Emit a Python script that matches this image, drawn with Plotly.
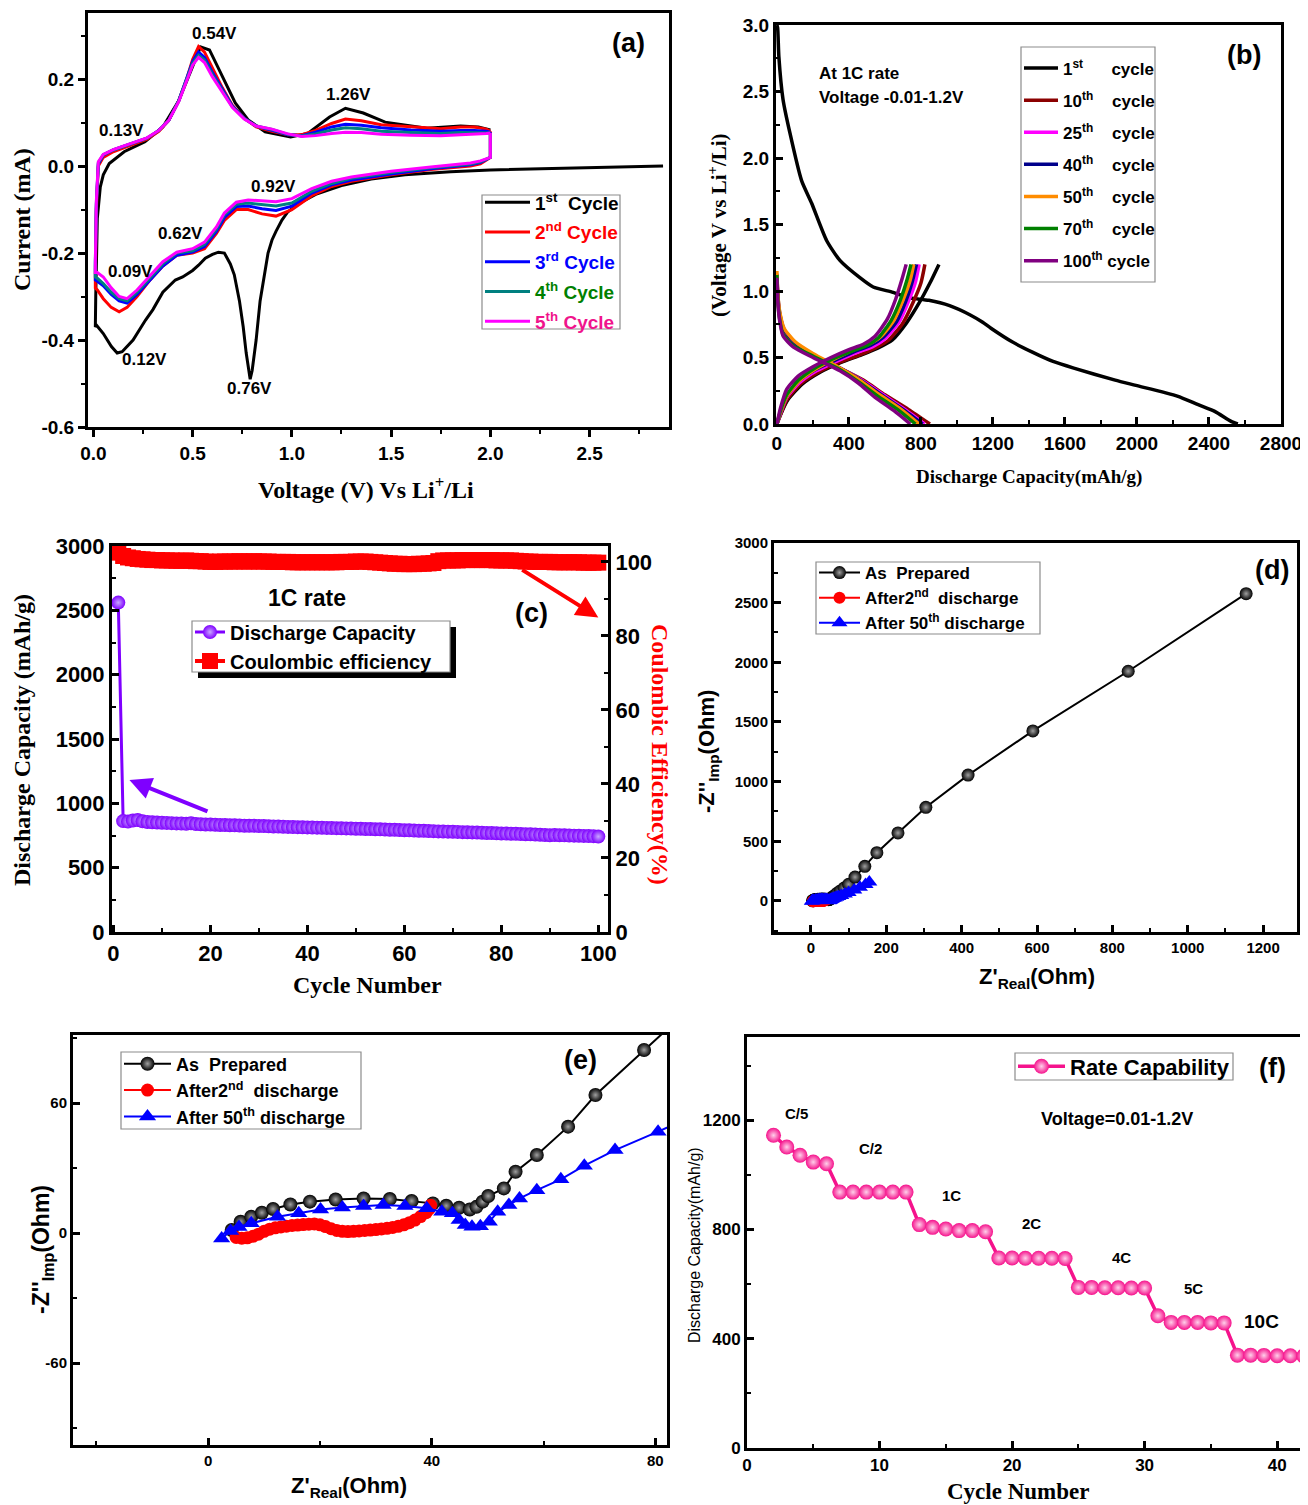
import plotly.graph_objects as go

# the page body adds an 8 px margin, so the figure is drawn 8 px smaller and all
# reference-pixel positions are shifted by that offset
OFF = 8
FW, FH = 1308 - OFF, 1505 - OFF
SANS = "Liberation Sans, Arial, sans-serif"
SERIF = "Liberation Serif, Times New Roman, serif"

# ---------------- (a) cyclic voltammetry ----------------
cv1_v = [2.87, 2.6, 2.3, 2.0, 1.8, 1.57, 1.4, 1.25, 1.12, 1.04, 0.98, 0.95, 0.92, 0.9, 0.88, 0.865,
         0.84, 0.82, 0.80, 0.79, 0.77, 0.755, 0.736, 0.71, 0.69, 0.66, 0.63, 0.6, 0.564, 0.53, 0.5,
         0.45, 0.413, 0.35, 0.3, 0.263, 0.2, 0.145, 0.12, 0.091, 0.05, 0.016, 0.01,
         0.01, 0.012, 0.02, 0.035, 0.05, 0.08, 0.155, 0.26, 0.35, 0.43, 0.5, 0.54, 0.585, 0.65,
         0.715, 0.78, 0.865, 0.994, 1.08, 1.19, 1.27, 1.36, 1.47, 1.68, 1.85, 1.94, 2.0]
cv1_i = [0.0, -0.003, -0.006, -0.009, -0.013, -0.02, -0.03, -0.045, -0.065, -0.085, -0.105, -0.124,
         -0.15, -0.17, -0.2, -0.24, -0.31, -0.40, -0.47, -0.49, -0.43, -0.37, -0.31, -0.25, -0.225,
         -0.2, -0.198, -0.203, -0.212, -0.228, -0.24, -0.255, -0.262, -0.29, -0.33, -0.354, -0.40,
         -0.427, -0.43, -0.415, -0.385, -0.366, -0.37,
         -0.37, -0.3, -0.12, -0.048, -0.02, 0.006, 0.033, 0.056, 0.09, 0.15, 0.228, 0.274, 0.267,
         0.205, 0.145, 0.106, 0.079, 0.067, 0.075, 0.113, 0.133, 0.122, 0.101, 0.087, 0.092, 0.09, 0.083]

cv_v_cath = [2.0, 2.0, 1.95, 1.9, 1.7, 1.5, 1.3, 1.2, 1.1, 1.0, 0.92, 0.85, 0.78, 0.72, 0.66, 0.62,
             0.56, 0.5, 0.42, 0.35, 0.28, 0.22, 0.17, 0.13, 0.09, 0.05, 0.02, 0.01]
cv_v_anod = [0.01, 0.015, 0.025, 0.05, 0.1, 0.15, 0.2, 0.27, 0.33, 0.38, 0.43, 0.47, 0.5, 0.53, 0.56,
             0.6, 0.65, 0.7, 0.76, 0.82, 0.9, 0.98, 1.05, 1.12, 1.2, 1.27, 1.35, 1.45, 1.6, 1.75,
             1.85, 1.92, 1.98, 2.0]

cv2_cath = [0.08, 0.02, 0.005, 0.0, -0.008, -0.02, -0.035, -0.047, -0.068, -0.1, -0.115, -0.11, -0.1,
            -0.1, -0.125, -0.155, -0.19, -0.2, -0.205, -0.23, -0.265, -0.3, -0.325, -0.335, -0.325,
            -0.305, -0.285, -0.28]
cv2_anod = [-0.25, -0.1, 0.0, 0.02, 0.033, 0.042, 0.05, 0.062, 0.08, 0.105, 0.15, 0.2, 0.245, 0.275,
            0.262, 0.225, 0.18, 0.14, 0.11, 0.09, 0.08, 0.072, 0.072, 0.082, 0.098, 0.108, 0.104,
            0.095, 0.09, 0.086, 0.09, 0.09, 0.085, 0.08]
cv3_cath = [0.078, 0.02, 0.008, 0.003, -0.006, -0.018, -0.032, -0.043, -0.062, -0.092, -0.102, -0.098,
            -0.092, -0.093, -0.118, -0.15, -0.185, -0.198, -0.205, -0.23, -0.265, -0.295, -0.315,
            -0.31, -0.295, -0.275, -0.265, -0.262]
cv3_anod = [-0.23, -0.09, 0.005, 0.025, 0.037, 0.045, 0.052, 0.064, 0.082, 0.105, 0.15, 0.2, 0.24,
            0.262, 0.25, 0.215, 0.175, 0.138, 0.11, 0.092, 0.082, 0.072, 0.07, 0.078, 0.09, 0.096,
            0.094, 0.088, 0.083, 0.08, 0.082, 0.082, 0.08, 0.078]
cv4_cath = [0.076, 0.02, 0.01, 0.005, -0.004, -0.015, -0.028, -0.04, -0.058, -0.085, -0.092, -0.088,
            -0.085, -0.088, -0.112, -0.145, -0.18, -0.195, -0.2, -0.225, -0.26, -0.29, -0.31, -0.305,
            -0.29, -0.27, -0.258, -0.255]
cv4_anod = [-0.22, -0.085, 0.008, 0.026, 0.037, 0.045, 0.052, 0.064, 0.082, 0.105, 0.15, 0.198, 0.236,
            0.255, 0.244, 0.21, 0.172, 0.136, 0.109, 0.092, 0.084, 0.073, 0.069, 0.074, 0.083, 0.088,
            0.086, 0.08, 0.077, 0.075, 0.077, 0.077, 0.077, 0.076]
cv5_cath = [0.076, 0.02, 0.012, 0.007, -0.002, -0.012, -0.025, -0.035, -0.052, -0.075, -0.082, -0.08,
            -0.078, -0.083, -0.108, -0.14, -0.175, -0.19, -0.198, -0.22, -0.255, -0.285, -0.305, -0.3,
            -0.28, -0.255, -0.245, -0.245]
cv5_anod = [-0.22, -0.08, 0.01, 0.027, 0.038, 0.046, 0.053, 0.065, 0.082, 0.105, 0.148, 0.195, 0.232,
            0.25, 0.238, 0.205, 0.17, 0.135, 0.108, 0.092, 0.085, 0.074, 0.068, 0.07, 0.075, 0.078,
            0.077, 0.073, 0.071, 0.07, 0.072, 0.073, 0.075, 0.076]
cv_ytick_vals = [-0.6, -0.4, -0.2, 0.0, 0.2]
cv_ytick_text = ["-0.6", "-0.4", "-0.2", "0.0", "0.2"]

# ---------------- (b) charge / discharge ----------------
c1_dis_cap = [0, 4, 11, 34, 72, 137, 193, 276, 350, 461, 535, 645, 729, 844, 959, 1074, 1143, 1189,
              1304, 1419, 1534, 1649, 1879, 1994, 2224, 2340, 2432, 2523, 2560]
c1_dis_v = [3.0, 2.98, 2.76, 2.44, 2.19, 1.83, 1.66, 1.38, 1.23, 1.1, 1.03, 0.99, 0.95, 0.93, 0.89,
            0.82, 0.765, 0.72, 0.62, 0.54, 0.47, 0.42, 0.33, 0.29, 0.21, 0.145, 0.095, 0.02, 0.0]
c1_chg_cap = [0, 20, 60, 140, 240, 350, 470, 560, 640, 720, 790, 850, 900]
c1_chg_v = [0, 0.07, 0.18, 0.3, 0.39, 0.46, 0.52, 0.57, 0.63, 0.76, 0.91, 1.06, 1.2]

c10_dis_cap = [0, 5, 15, 40, 100, 200, 350, 480, 600, 730, 850]
c10_dis_v = [1.1, 0.95, 0.82, 0.7, 0.6, 0.52, 0.42, 0.33, 0.22, 0.11, 0.0]
c10_chg_cap = [0, 20, 55, 130, 230, 340, 460, 545, 620, 700, 755, 800, 822]
c10_chg_v = [0, 0.07, 0.18, 0.3, 0.39, 0.46, 0.52, 0.57, 0.63, 0.76, 0.91, 1.06, 1.2]

c25_dis_cap = [0, 5, 15, 40, 100, 200, 350, 470, 590, 710, 820]
c25_dis_v = [1.12, 0.96, 0.83, 0.71, 0.61, 0.52, 0.42, 0.33, 0.22, 0.11, 0.0]
c25_chg_cap = [0, 20, 55, 125, 220, 330, 450, 530, 600, 680, 730, 770, 790]
c25_chg_v = [0, 0.08, 0.2, 0.31, 0.4, 0.47, 0.54, 0.58, 0.64, 0.77, 0.92, 1.07, 1.2]

c40_dis_cap = [0, 5, 15, 40, 100, 200, 350, 465, 580, 700, 810]
c40_dis_v = [1.13, 0.97, 0.84, 0.71, 0.61, 0.52, 0.42, 0.33, 0.22, 0.11, 0.0]
c40_chg_cap = [0, 20, 55, 120, 215, 325, 440, 520, 590, 665, 715, 752, 775]
c40_chg_v = [0, 0.09, 0.21, 0.32, 0.41, 0.48, 0.55, 0.59, 0.65, 0.77, 0.92, 1.07, 1.2]

c50_dis_cap = [0, 5, 15, 40, 100, 200, 350, 460, 570, 690, 790]
c50_dis_v = [1.15, 0.98, 0.85, 0.72, 0.62, 0.53, 0.42, 0.33, 0.22, 0.11, 0.0]
c50_chg_cap = [0, 20, 55, 120, 210, 320, 430, 510, 580, 650, 700, 740, 760]
c50_chg_v = [0, 0.09, 0.21, 0.32, 0.41, 0.49, 0.56, 0.6, 0.66, 0.78, 0.93, 1.08, 1.2]

c70_dis_cap = [0, 5, 15, 35, 90, 200, 350, 450, 560, 670, 770]
c70_dis_v = [1.12, 0.93, 0.79, 0.67, 0.59, 0.51, 0.41, 0.32, 0.21, 0.11, 0.0]
c70_chg_cap = [0, 20, 55, 120, 210, 310, 420, 500, 565, 635, 685, 722, 745]
c70_chg_v = [0, 0.1, 0.22, 0.33, 0.42, 0.49, 0.55, 0.59, 0.65, 0.78, 0.93, 1.08, 1.2]

c100_dis_cap = [0, 5, 15, 35, 90, 200, 350, 450, 545, 650, 741]
c100_dis_v = [1.1, 0.92, 0.78, 0.66, 0.58, 0.5, 0.4, 0.31, 0.2, 0.1, 0.0]
c100_chg_cap = [0, 20, 54, 118, 200, 300, 400, 480, 545, 614, 660, 695, 718]
c100_chg_v = [0, 0.12, 0.26, 0.36, 0.43, 0.5, 0.56, 0.6, 0.66, 0.79, 0.94, 1.09, 1.2]

# ---------------- (c) cycling at 1C ----------------
cyc_num = list(range(1, 101))
dis_capacity = [2560,
                862, 858, 866, 870, 860, 855, 853, 851, 849,
                848, 846, 844, 843, 841, 845, 839, 838, 836, 835,
                834, 832, 831, 830, 829, 828, 826, 825, 826, 824,
                823, 822, 820, 819, 818, 817, 816, 815, 814, 813,
                812, 811, 810, 809, 808, 807, 806, 805, 804, 803,
                802, 801, 800, 799, 798, 796, 795, 794, 792, 791,
                790, 788, 787, 786, 785, 784, 782, 781, 780, 779,
                778, 776, 775, 774, 773, 771, 770, 769, 768, 766,
                765, 764, 763, 761, 760, 759, 757, 755, 753, 752,
                753, 752, 751, 750, 749, 748, 747, 746, 745, 742]
coul_eff = [102.5, 101.6, 101.2, 101.0, 100.8, 100.7, 100.6, 100.5, 100.5, 100.4,
            100.4, 100.4, 100.3, 100.3, 100.4, 100.3, 100.2, 100.2, 100.1, 100.0,
            100.0, 100.1, 100.1, 100.1, 100.1, 100.2, 100.1, 100.1, 100.2, 100.1,
            100.1, 100.1, 100.0, 100.0, 100.0, 100.0, 99.9, 99.9, 99.9, 99.9,
            99.9, 99.9, 99.9, 99.9, 99.9, 99.9, 100.0, 100.0, 100.0, 100.1,
            100.1, 100.1, 100.0, 99.9, 99.8, 99.7, 99.6, 99.5, 99.5, 99.4,
            99.4, 99.4, 99.5, 99.5, 99.6, 99.7, 100.2, 100.4, 100.4, 100.4,
            100.4, 100.5, 100.5, 100.5, 100.5, 100.5, 100.5, 100.5, 100.4, 100.4,
            100.4, 100.4, 100.3, 100.2, 100.1, 100.1, 100.0, 100.0, 100.0, 100.0,
            99.9, 99.9, 99.9, 99.9, 99.9, 99.9, 99.8, 99.8, 99.8, 99.8]

# ---------------- (d)/(e) impedance ----------------
ap_re = [4.2, 5.8, 7.7, 9.6, 11.6, 14.7, 18.2, 22.8, 27.8, 32.5, 36.4, 40.2, 42.6, 44.9, 46.8, 48.0,
         49.1, 50.1, 52.9, 55.0, 58.8, 64.4, 69.3, 78.0, 88, 100, 117, 143, 175, 231, 305, 417, 589,
         842, 1155]
ap_im = [1.4, 5.2, 7.5, 9.4, 11.1, 13.2, 14.5, 15.5, 16.0, 15.7, 14.8, 13.7, 12.6, 11.7, 10.9, 12.1,
         14.5, 17.1, 20.6, 28.3, 36.0, 49.1, 63.7, 84.5, 108, 140, 200, 290, 405, 570, 785, 1055,
         1425, 1925, 2575]
d2_re = [5.0, 6.0, 7.0, 8.0, 9.0, 10.0, 11.0, 12.0, 13.0, 14.0, 15.0, 16.0, 17.0, 18.0, 19.0, 20.0,
         21.0, 22.0, 23.0, 24.0, 25.0, 26.0, 27.0, 28.0, 29.0, 30.0, 31.0, 32.0, 33.0, 34.0, 35.0,
         36.0, 37.0, 38.0, 39.0, 39.5, 39.8]
d2_im = [-2.0, -2.4, -2.2, -1.5, -0.5, 0.8, 1.8, 2.4, 2.8, 3.2, 3.5, 3.7, 3.9, 4.1, 4.2, 3.8, 3.0, 2.0,
         1.2, 0.8, 0.7, 0.8, 1.0, 1.2, 1.4, 1.6, 1.9, 2.2, 2.6, 3.1, 3.8, 4.8, 6.0, 7.6, 9.4, 11.0, 12.8]
d50_re = [2.4, 4.0, 5.5, 7.7, 12.4, 16.2, 20.1, 24.0, 27.8, 31.3, 35.2, 39.1, 41.8, 43.7, 44.9, 46.0,
          47.2, 48.7, 50.3, 51.8, 53.8, 55.7, 58.8, 63.1, 67.3, 72.8, 80.5, 90, 100, 115, 130, 145, 155]
d50_im = [-2.5, 1.0, 2.8, 4.5, 7.5, 9.1, 10.9, 11.8, 12.5, 12.9, 12.5, 11.4, 9.8, 9.1, 6.0, 3.7, 2.9,
          3.2, 5.2, 9.8, 12.9, 16.0, 19.8, 24.8, 31.1, 38.3, 46.8, 58, 72, 92, 115, 138, 160]
e_ytick_vals = [-60, 0, 60]
e_ytick_text = ["-60", "0", "60"]

# ---------------- (f) rate capability ----------------
rate_cycle = [2, 3, 4, 5, 6, 7, 8, 9, 10, 11, 12, 13, 14, 15, 16, 17, 18, 19, 20, 21, 22, 23, 24,
              25, 26, 27, 28, 29, 30, 31, 32, 33, 34, 35, 36, 37, 38, 39, 40, 41, 42]
rate_cap = [1145, 1102, 1072, 1047, 1041, 937, 937, 937, 937, 937, 937, 818, 808, 802, 796, 796, 792,
            696, 696, 695, 695, 695, 694, 588, 588, 587, 587, 586, 586, 484, 460, 460, 460, 458, 458,
            340, 340, 339, 338, 338, 337]
rate_labels = ["C/5", "C/2", "1C", "2C", "4C", "5C", "10C"]


def fx(x):
    return (x - OFF) / FW


def fy(y):
    return 1 - (y - OFF) / FH


def dx(a, b):
    return [fx(a), fx(b)]


def dy(top, bottom):
    return [fy(bottom), fy(top)]


def P(x, y):
    return dict(x=fx(x), y=fy(y), xref="paper", yref="paper")


def axis(domain, rng, dtick, minor_dtick, anchor, size, ticks="inside", fmt=None, tick0=None, **kw):
    d = dict(domain=domain, range=rng, dtick=dtick, anchor=anchor, showline=True, linewidth=3,
             linecolor="black", mirror=True, ticks=ticks, ticklen=7, tickwidth=2.5, tickcolor="black",
             showgrid=False, zeroline=False, automargin=False,
             tickfont=dict(family=SANS, size=size, color="black", weight="bold"),
             minor=dict(dtick=minor_dtick, ticks=ticks, ticklen=4, tickwidth=2, tickcolor="black",
                        showgrid=False))
    if fmt:
        d["tickformat"] = fmt
    if tick0 is not None:
        d["tick0"] = tick0
        d["minor"]["tick0"] = tick0
    d.update(kw)
    return d


fig = go.Figure()

# ---- (a) traces
fig.add_trace(go.Scatter(x=cv1_v, y=cv1_i, mode="lines", line=dict(color="black", width=3),
                         name="1<sup>st</sup>\u00a0 Cycle", legendgroup="a1",
                         xaxis="x", yaxis="y", legend="legend"))
cv_specs = [(cv2_cath, cv2_anod, "#FF0000", "#FF0000", "2<sup>nd</sup> Cycle"),
            (cv3_cath, cv3_anod, "#0000FF", "#0000FF", "3<sup>rd</sup> Cycle"),
            (cv4_cath, cv4_anod, "#008080", "#008000", "4<sup>th</sup> Cycle"),
            (cv5_cath, cv5_anod, "#FF00FF", "#F0148C", "5<sup>th</sup> Cycle")]
for k, (cath, anod, col, tcol, nm) in enumerate(cv_specs):
    fig.add_trace(go.Scatter(x=cv_v_cath + cv_v_anod, y=cath + anod, mode="lines",
                             line=dict(color=col, width=3),
                             name="<span style='color:%s'>%s</span>" % (tcol, nm), legendgroup="a%d" % (k + 2),
                             xaxis="x", yaxis="y", legend="legend"))

# ---- (b) traces
b_specs = [("1<sup>st</sup>\u00a0\u00a0\u00a0\u00a0\u00a0\u00a0cycle", "black", c1_dis_cap, c1_dis_v, c1_chg_cap, c1_chg_v),
           ("10<sup>th</sup>\u00a0\u00a0\u00a0\u00a0cycle", "#8B0000", c10_dis_cap, c10_dis_v, c10_chg_cap, c10_chg_v),
           ("25<sup>th</sup>\u00a0\u00a0\u00a0\u00a0cycle", "#FF00FF", c25_dis_cap, c25_dis_v, c25_chg_cap, c25_chg_v),
           ("40<sup>th</sup>\u00a0\u00a0\u00a0\u00a0cycle", "#00008B", c40_dis_cap, c40_dis_v, c40_chg_cap, c40_chg_v),
           ("50<sup>th</sup>\u00a0\u00a0\u00a0\u00a0cycle", "#FF8C00", c50_dis_cap, c50_dis_v, c50_chg_cap, c50_chg_v),
           ("70<sup>th</sup>\u00a0\u00a0\u00a0\u00a0cycle", "#008000", c70_dis_cap, c70_dis_v, c70_chg_cap, c70_chg_v),
           ("100<sup>th</sup>\u00a0cycle", "#800080", c100_dis_cap, c100_dis_v, c100_chg_cap, c100_chg_v)]
for k, (nm, col, dc, dv, cc, cvv) in enumerate(b_specs):
    g = "b%d" % k
    fig.add_trace(go.Scatter(x=dc, y=dv, mode="lines", line=dict(color=col, width=3.5, shape="spline", smoothing=0.6),
                             name=nm, legendgroup=g, xaxis="x2", yaxis="y2", legend="legend2"))
    fig.add_trace(go.Scatter(x=cc, y=cvv, mode="lines", line=dict(color=col, width=3.5, shape="spline", smoothing=0.6),
                             name=nm, legendgroup=g, showlegend=False, xaxis="x2", yaxis="y2", legend="legend2"))

# ---- (c) traces
PURPLE = "#7F00FF"
fig.add_trace(go.Scatter(x=cyc_num, y=coul_eff, mode="lines+markers",
                         line=dict(color="#FF0000", width=4),
                         marker=dict(symbol="square", size=16, color="#FF0000"),
                         name="Coulombic efficiency", legendgroup="c2", xaxis="x3", yaxis="y4",
                         legend="legend3", legendrank=2))
fig.add_trace(go.Scatter(x=cyc_num, y=dis_capacity, mode="lines+markers",
                         line=dict(color=PURPLE, width=3),
                         marker=dict(symbol="circle", size=14, color=PURPLE,
                                     gradient=dict(type="radial", color="#C8A8FF")),
                         name="Discharge Capacity", legendgroup="c1", xaxis="x3", yaxis="y3",
                         legend="legend3", legendrank=1))


# ---- (d) & (e) traces
def eis_traces(xa, ya, lg, msize, tag):
    fig.add_trace(go.Scatter(x=ap_re, y=ap_im, mode="lines+markers", line=dict(color="black", width=2),
                             marker=dict(size=msize, color="black",
                                         gradient=dict(type="radial", color="#A0A0A0")),
                             name="As\u00a0 Prepared", legendgroup=tag + "1",
                             xaxis=xa, yaxis=ya, legend=lg))
    fig.add_trace(go.Scatter(x=d2_re, y=d2_im, mode="lines+markers", line=dict(color="#FF0000", width=2),
                             marker=dict(size=msize - 1, color="#FF0000"),
                             name="After2<sup>nd</sup>\u00a0 discharge", legendgroup=tag + "2",
                             xaxis=xa, yaxis=ya, legend=lg))
    fig.add_trace(go.Scatter(x=d50_re, y=d50_im, mode="lines+markers", line=dict(color="#0000FF", width=2),
                             marker=dict(symbol="triangle-up", size=msize + 1, color="#0000FF"),
                             name="After 50<sup>th</sup> discharge", legendgroup=tag + "3",
                             xaxis=xa, yaxis=ya, legend=lg))


eis_traces("x5", "y5", "legend4", 13, "d")
eis_traces("x6", "y6", "legend5", 14, "e")

# ---- (f) trace
PINK = "#F5128C"
fig.add_trace(go.Scatter(x=rate_cycle, y=rate_cap, mode="lines+markers",
                         line=dict(color=PINK, width=3.5),
                         marker=dict(size=15, color=PINK, gradient=dict(type="radial", color="#FFD0EA")),
                         name="Rate Capability", xaxis="x7", yaxis="y7", legend="legend6"))

# ---------------- layout ----------------
layout = dict(
    width=FW, height=FH, margin=dict(l=0, r=0, t=0, b=0, pad=0, autoexpand=False),
    paper_bgcolor="white", plot_bgcolor="white", hovermode=False, showlegend=True,
    # (a)
    xaxis=axis(dx(88, 669), [-0.027, 2.9], 0.5, 0.25, "y", 19, ticks="outside", fmt=".1f", tick0=0),
    yaxis=axis(dy(13, 427), [-0.6, 0.352], 0.2, 0.1, "x", 19, ticks="outside", tick0=0,
               tickvals=cv_ytick_vals, ticktext=cv_ytick_text),
    # (b)
    xaxis2=axis(dx(776, 1281), [-5, 2800], 400, 200, "y2", 19, tick0=0),
    yaxis2=axis(dy(25, 424), [0, 3.0], 0.5, 0.25, "x2", 19, fmt=".1f", tick0=0),
    # (c)
    xaxis3=axis(dx(112, 608), [-0.3, 102], 20, 10, "y3", 22, tick0=0),
    yaxis3=axis(dy(546, 932), [0, 3000], 500, 250, "x3", 22, tick0=0),
    yaxis4=axis(dy(546, 932), [0, 104.3], 20, 10, "x3", 22, tick0=0, overlaying="y3", side="right"),
    # (d)
    xaxis5=axis(dx(774, 1297), [-98, 1290], 200, 100, "y5", 15, tick0=0),
    yaxis5=axis(dy(543, 932), [-260, 3000], 500, 250, "x5", 15, tick0=0),
    # (e)
    xaxis6=axis(dx(73, 667), [-24.2, 82.1], 40, 20, "y6", 15, tick0=0),
    yaxis6=axis(dy(1035, 1445), [-97.8, 91.4], 60, 30, "x6", 15, tick0=0,
                tickvals=e_ytick_vals, ticktext=e_ytick_text),
    # (f)
    xaxis7=axis(dx(747, 1305), [0, 42.1], 10, 5, "y7", 17, tick0=0),
    yaxis7=axis(dy(1037, 1448), [0, 1505], 400, 200, "x7", 17, tick0=0),
)
layout["yaxis4"]["mirror"] = False

# legend boxes drawn as shapes; legends themselves are transparent
boxes = {  # name: (x0, y0, x1, y1, font size, group gap, item width)
    "legend": (482, 195, 620, 329, 19, 2, 45),
    "legend2": (1021, 47, 1155, 282, 17, 7, 34),
    "legend3": (192, 621, 450, 672, 20, 0, 30),
    "legend4": (816, 562, 1040, 634, 17, 0, 41),
    "legend5": (121, 1052, 361, 1129, 18, 0, 47),
    "legend6": (1015, 1053, 1233, 1080, 22, 0, 47),
}
shapes = []
# shadow behind (c) legend
shapes.append(dict(type="rect", xref="paper", yref="paper", x0=fx(198), x1=fx(456),
                   y0=fy(678), y1=fy(627), fillcolor="black", line=dict(width=0), layer="above"))
for nm, (x0, y0, x1, y1, fs, gap, iw) in boxes.items():
    shapes.append(dict(type="rect", xref="paper", yref="paper", x0=fx(x0), x1=fx(x1),
                       y0=fy(y1), y1=fy(y0), fillcolor="white",
                       line=dict(color="#8C8C8C", width=1.2), layer="above"))
    layout[nm] = dict(bgcolor="rgba(0,0,0,0)", borderwidth=0, xanchor="left", yanchor="middle",
                      x=fx(x0 - 2), y=fy((y0 + y1) / 2), tracegroupgap=gap, traceorder="grouped",
                      itemwidth=iw, font=dict(family=SANS, size=fs, color="black", weight="bold"))

ann = []


def txt(x, y, s, size=16, family=SANS, color="black", angle=0, bold=True, xanchor="center"):
    a = P(x, y)
    a.update(text=s, showarrow=False, textangle=angle, xanchor=xanchor, yanchor="middle",
             font=dict(family=family, size=size, color=color, weight="bold" if bold else "normal"))
    ann.append(a)


# panel labels
txt(628, 43, "(a)", 27)
txt(1244, 55, "(b)", 27)
txt(531, 613, "(c)", 27)
txt(1272, 570, "(d)", 27)
txt(580, 1060, "(e)", 27)
txt(1272, 1068, "(f)", 27)

# (a) peak labels
for (px, py, s) in [(214, 33, "0.54V"), (348, 95, "1.26V"), (121, 131, "0.13V"), (273, 186, "0.92V"),
                    (180, 233, "0.62V"), (130, 271, "0.09V"), (144, 359, "0.12V"), (250, 389, "0.76V")]:
    txt(px, py, s, 17)

# axis titles
txt(22, 220, "Current (mA)", 24, SERIF, angle=-90)
txt(366, 488, "Voltage (V) Vs Li<sup>+</sup>/Li", 24, SERIF)
txt(718, 225, "(Voltage V vs Li<sup>+</sup>/Li)", 21, SERIF, angle=-90)
txt(1029, 477, "Discharge Capacity(mAh/g)", 19, SERIF)
txt(22, 740, "Discharge Capacity (mAh/g)", 24, SERIF, angle=-90)
txt(660, 755, "Coulombic Efficiency(%)", 24, SERIF, color="#FF0000", angle=90)
txt(367, 985, "Cycle Number", 24, SERIF)
txt(708, 752, "-Z''<sub>Imp</sub>(Ohm)", 22, SANS, angle=-90)
txt(1037, 978, "Z'<sub>Real</sub>(Ohm)", 22, SANS)
txt(42, 1250, "-Z''<sub>Imp</sub>(Ohm)", 23, SANS, angle=-90)
txt(349, 1487, "Z'<sub>Real</sub>(Ohm)", 22, SANS)
txt(694, 1245, "Discharge Capacity(mAh/g)", 16, SANS, angle=-90, bold=False)
txt(1018, 1491, "Cycle Number", 23, SERIF)

# (b) notes
txt(817, 73, "At 1C rate", 17, xanchor="left")
txt(817, 98, "Voltage -0.01-1.2V", 17, xanchor="left")

# (c) note + arrows
txt(307, 598, "1C rate", 23)
ann.append(dict(x=3.3, y=1181, xref="x3", yref="y3", ax=19.7, ay=933, axref="x3", ayref="y3",
                showarrow=True, arrowhead=2, arrowsize=1.1, arrowwidth=4, arrowcolor=PURPLE, text=""))
ann.append(dict(x=100, y=85, xref="x3", yref="y4", ax=84, ay=98.1, axref="x3", ayref="y4",
                showarrow=True, arrowhead=2, arrowsize=1.1, arrowwidth=4, arrowcolor="#FF0000", text=""))

# (f) rate labels
for (px, py), s in zip([(796, 1113), (870, 1148), (951, 1195), (1031, 1223), (1121, 1257),
                        (1193, 1288), (1261, 1321)], rate_labels):
    txt(px, py, s, 19 if s == "10C" else 15)
txt(1117, 1119, "Voltage=0.01-1.2V", 18)

layout["annotations"] = ann
layout["shapes"] = shapes

fig.update_layout(**layout)
fig.write_html("out.html")
